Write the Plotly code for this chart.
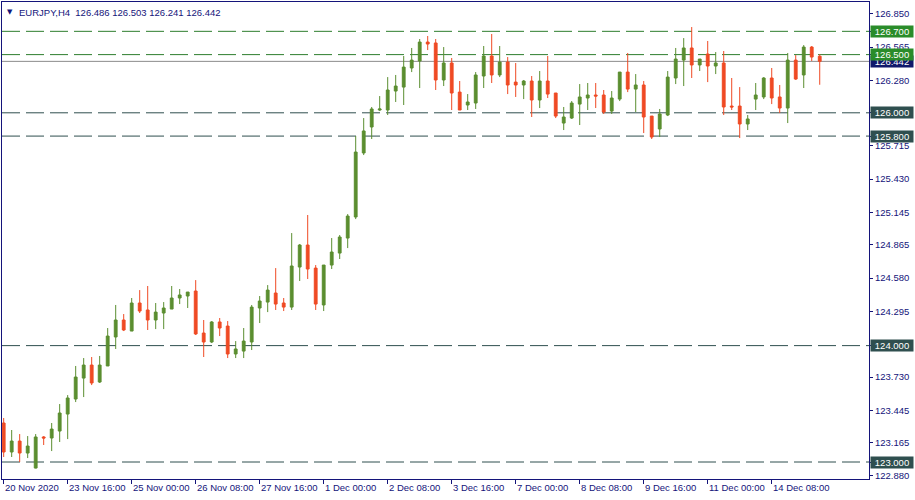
import plotly.graph_objects as go

# ---------------- data ----------------
symbol_title = "EURJPY,H4"
last_ohlc = [126.486, 126.503, 126.241, 126.442]

opens = [123.335, 123.086, 123.180, 123.077, 122.948, 123.215, 123.206, 123.266, 123.412, 123.541,
         123.721, 123.833, 123.687, 123.825, 124.074, 124.220, 124.125, 124.366, 124.306, 124.220,
         124.280, 124.314, 124.409, 124.426, 124.469, 124.108, 124.031, 124.203, 124.168, 123.928,
         123.953, 124.031, 124.323, 124.374, 124.452, 124.366, 124.331, 124.675, 124.864, 124.666,
         124.349, 124.692, 124.795, 124.924, 125.105, 125.655, 125.878, 126.024, 126.024, 126.187,
         126.221, 126.385, 126.445, 126.608, 126.600, 126.282, 126.428, 126.178, 126.067, 126.084,
         126.316, 126.488, 126.325, 126.436, 126.264, 126.239, 126.273, 126.110, 126.273, 126.170,
         125.912, 125.955, 126.075, 126.127, 126.153, 126.153, 126.015, 126.118, 126.350, 126.204,
         126.239, 125.972, 125.861, 125.981, 126.299, 126.453, 126.557, 126.411, 126.505, 126.402,
         126.428, 126.058, 126.058, 125.904, 126.118, 126.136, 126.299, 126.136, 126.041, 126.453,
         126.325, 126.565, 126.486]
highs = [123.378, 123.275, 123.240, 123.223, 123.240, 123.223, 123.335, 123.498, 123.575, 123.825,
         123.893, 123.902, 123.911, 124.151, 124.349, 124.271, 124.409, 124.477, 124.512, 124.366,
         124.374, 124.512, 124.486, 124.460, 124.563, 124.220, 124.211, 124.237, 124.211, 124.039,
         124.151, 124.349, 124.426, 124.520, 124.666, 124.409, 124.967, 124.873, 125.122, 124.692,
         124.692, 124.924, 124.950, 125.130, 125.801, 125.955, 126.050, 126.144, 126.307, 126.325,
         126.488, 126.557, 126.634, 126.660, 126.634, 126.565, 126.471, 126.273, 126.161, 126.350,
         126.574, 126.677, 126.574, 126.479, 126.428, 126.282, 126.316, 126.359, 126.488, 126.170,
         126.050, 126.101, 126.247, 126.256, 126.256, 126.196, 126.187, 126.350, 126.514, 126.333,
         126.273, 125.972, 126.033, 126.359, 126.557, 126.642, 126.737, 126.462, 126.617, 126.522,
         126.531, 126.299, 126.221, 125.981, 126.256, 126.307, 126.385, 126.239, 126.514, 126.496,
         126.582, 126.574, 126.503]
lows = [123.043, 123.043, 123.000, 123.034, 122.945, 123.146, 123.094, 123.172, 123.197, 123.515,
        123.558, 123.661, 123.679, 123.825, 123.971, 124.125, 124.125, 124.280, 124.134, 124.142,
        124.142, 124.314, 124.357, 124.323, 124.091, 123.902, 124.022, 124.082, 123.893, 123.893,
        123.893, 123.962, 124.194, 124.288, 124.306, 124.297, 124.306, 124.555, 124.572, 124.306,
        124.297, 124.658, 124.744, 124.838, 125.087, 125.637, 125.775, 126.015, 125.981, 126.093,
        126.067, 126.350, 126.213, 126.539, 126.196, 126.230, 126.024, 126.024, 126.024, 126.033,
        126.213, 126.256, 126.307, 126.161, 126.136, 126.118, 125.964, 126.041, 126.127, 125.955,
        125.852, 125.947, 125.895, 126.024, 126.041, 125.990, 125.990, 126.101, 126.178, 126.007,
        125.826, 125.775, 125.792, 125.972, 126.247, 126.230, 126.299, 126.359, 126.264, 126.333,
        125.981, 126.024, 125.783, 125.852, 126.024, 126.118, 126.075, 125.998, 125.912, 126.282,
        126.213, 126.445, 126.241]
closes = [123.086, 123.180, 123.077, 123.137, 123.215, 123.206, 123.283, 123.421, 123.550, 123.730,
          123.833, 123.679, 123.833, 124.082, 124.220, 124.134, 124.366, 124.297, 124.220, 124.288,
          124.323, 124.409, 124.435, 124.460, 124.100, 124.031, 124.203, 124.151, 123.928, 123.971,
          124.039, 124.331, 124.383, 124.477, 124.357, 124.331, 124.684, 124.864, 124.658, 124.357,
          124.692, 124.804, 124.933, 125.113, 125.663, 125.844, 126.033, 126.033, 126.196, 126.230,
          126.393, 126.453, 126.608, 126.591, 126.282, 126.428, 126.170, 126.024, 126.093, 126.325,
          126.488, 126.325, 126.436, 126.239, 126.239, 126.273, 126.110, 126.273, 126.161, 125.972,
          125.964, 126.084, 126.136, 126.153, 126.144, 126.007, 126.127, 126.350, 126.204, 126.239,
          125.964, 125.792, 125.990, 126.307, 126.462, 126.557, 126.411, 126.462, 126.402, 126.428,
          126.050, 126.050, 125.904, 125.947, 126.153, 126.299, 126.127, 126.041, 126.453, 126.290,
          126.565, 126.479, 126.442]

# x-axis date labels every 8 bars
date_labels = ["20 Nov 2020", "23 Nov 16:00", "25 Nov 00:00", "26 Nov 08:00", "27 Nov 16:00",
               "1 Dec 00:00", "2 Dec 08:00", "3 Dec 16:00", "7 Dec 00:00", "8 Dec 08:00",
               "9 Dec 16:00", "11 Dec 00:00", "14 Dec 08:00"]
label_step = 8

# price axis ticks
price_ticks = [122.880, 123.165, 123.445, 123.730, 124.295, 124.580, 124.865,
               125.145, 125.430, 125.715, 126.280, 126.565, 126.850]

# horizontal levels
green_levels = [126.700, 126.500]
dark_levels = [126.000, 125.800, 124.000, 123.000]
current_price = 126.442

# ---------------- styling ----------------
NAVY = "#14147a"
GREEN_LINE = "#2e7d2e"
GREEN_BOX = "#2a8c2a"
DARK = "#2f4f4f"
UP = "#5b8e30"
DOWN = "#ef4a24"
FONT = "Liberation Sans"

x = list(range(len(opens)))

fig = go.Figure()
fig.add_trace(go.Candlestick(
    x=x, open=opens, high=highs, low=lows, close=closes,
    increasing=dict(fillcolor=UP, line=dict(color=UP, width=1)),
    decreasing=dict(fillcolor=DOWN, line=dict(color=DOWN, width=1)),
    whiskerwidth=0, hoverinfo="skip", showlegend=False,
))

shapes = []
for lv in green_levels:
    shapes.append(dict(type="line", xref="paper", x0=0, x1=1, yref="y", y0=lv, y1=lv,
                       line=dict(color=GREEN_LINE, width=1, dash="18px,6px"), layer="below"))
for lv in dark_levels:
    shapes.append(dict(type="line", xref="paper", x0=0, x1=1, yref="y", y0=lv, y1=lv,
                       line=dict(color=DARK, width=1, dash="18px,6px"), layer="below"))
shapes.append(dict(type="line", xref="paper", x0=0, x1=1, yref="y", y0=current_price, y1=current_price,
                   line=dict(color="#8c8c8c", width=1), layer="below"))

annotations = []
# x labels, left-aligned at the tick like MT4
tick_pos = [k * label_step for k in range(len(date_labels))]
for pos, lab in zip(tick_pos, date_labels):
    annotations.append(dict(x=pos, xref="x", y=0, yref="paper", text=lab, showarrow=False,
                            xanchor="left", yanchor="top", yshift=-2, xshift=0, borderpad=0,
                            font=dict(family=FONT, size=9.5, color=NAVY)))

def level_box(val, bg):
    return dict(x=1, xref="paper", y=val, yref="y", text=f"{val:.3f}", showarrow=False,
                xanchor="left", yanchor="middle", xshift=1, width=42, height=11, align="center",
                bgcolor=bg, borderpad=0, font=dict(family=FONT, size=9.5, color="white"))

annotations.append(level_box(current_price, "#10186a"))
for lv in dark_levels:
    annotations.append(level_box(lv, DARK))
for lv in green_levels:
    annotations.append(level_box(lv, GREEN_BOX))

# title
annotations.append(dict(x=0, xref="paper", y=1, yref="paper", text="▼", showarrow=False,
                        xanchor="left", yanchor="top", xshift=4, yshift=-5, borderpad=0,
                        font=dict(family="DejaVu Sans", size=7, color=NAVY)))
title_txt = symbol_title + "\u00a0\u00a0" + " ".join(f"{v:.3f}" for v in last_ohlc)
annotations.append(dict(x=0, xref="paper", y=1, yref="paper", text=title_txt, showarrow=False,
                        xanchor="left", yanchor="top", xshift=16, yshift=-4, borderpad=0,
                        font=dict(family=FONT, size=9.5, color=NAVY)))

fig.update_layout(
    width=915, height=500,
    margin=dict(l=2, r=46, t=2, b=21, pad=0),
    paper_bgcolor="white", plot_bgcolor="white",
    boxgap=0.5,
    shapes=shapes, annotations=annotations,
    showlegend=False,
    xaxis=dict(range=[-0.21, 108.16], showgrid=False, zeroline=False,
               rangeslider=dict(visible=False), showline=True, mirror=True,
               linecolor=NAVY, linewidth=1, ticks="outside", ticklen=4, tickcolor=NAVY,
               tickvals=tick_pos, ticktext=[""] * len(tick_pos), fixedrange=True),
    yaxis=dict(range=[122.854, 126.952], side="right", showgrid=False, zeroline=False,
               showline=True, mirror=True, linecolor=NAVY, linewidth=1,
               ticks="outside", ticklen=3, tickcolor=NAVY,
               tickvals=price_ticks + dark_levels + green_levels,
               ticktext=[f"{v:.3f}" for v in price_ticks] + [""] * (len(dark_levels) + len(green_levels)),
               tickfont=dict(family=FONT, size=9.5, color=NAVY), fixedrange=True),
)

fig.write_html("out.html", config={"displayModeBar": False},
               post_script="document.body.style.margin='0';document.body.style.overflow='hidden';")
